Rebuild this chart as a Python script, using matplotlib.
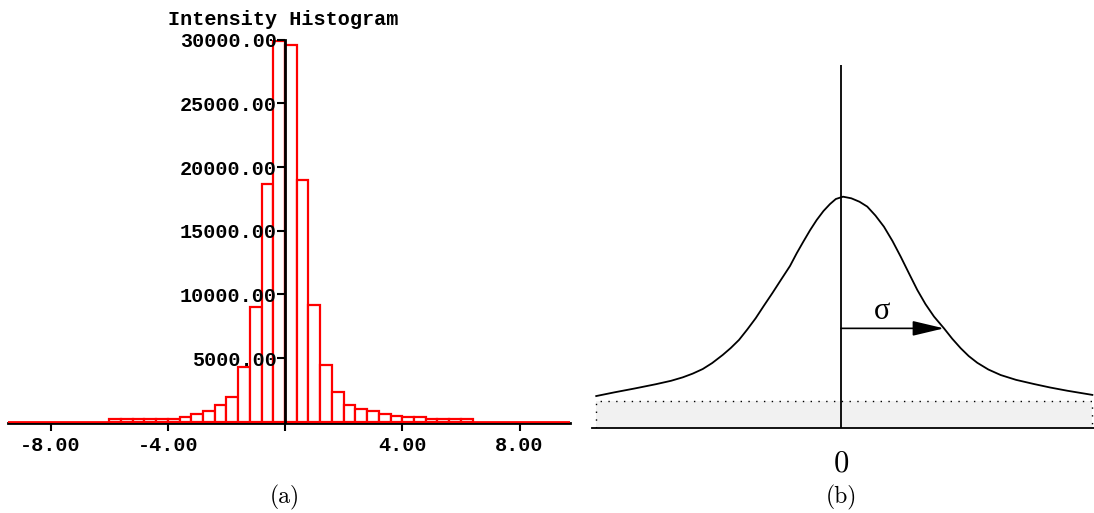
import numpy as np
import matplotlib.pyplot as plt

# (a) histogram: bins of width 0.4 starting at -6.0
bin_start = -6.0
bin_width = 0.4
counts = [200, 200, 200, 200, 200, 210, 400, 640, 810, 1320, 1960, 4320, 8980, 18650, 29900,
          29560, 18960, 9160, 4480, 2300, 1320, 980, 810, 600, 420, 400, 390, 190, 190, 190, 190]
xticks = [-8, -4, 0, 4, 8]
xtick_labels = ['-8.00', '-4.00', '', '4.00', '8.00']
yticks = [5000, 10000, 15000, 20000, 25000, 30000]
ytick_labels = ['5000.00', '10000.00', '15000.00', '20000.00', '25000.00', '30000.00']

# (b) sketch: x in units of sigma, y relative to the peak
curve_x = [-2.376, -2.2, -2.0, -1.8, -1.65, -1.536, -1.44, -1.342, -1.25, -1.148, -1.07,
           -0.990, -0.91, -0.828, -0.75, -0.667, -0.58, -0.495, -0.43, -0.366, -0.30,
           -0.236, -0.17, -0.107, -0.05, 0.02, 0.10, 0.18, 0.255, 0.335, 0.417, 0.50,
           0.580, 0.66, 0.741, 0.82, 0.903, 1.0, 1.08, 1.162, 1.24, 1.323, 1.43, 1.550,
           1.70, 1.874, 2.03, 2.197, 2.440]
curve_y = [0.137, 0.153, 0.170, 0.188, 0.203, 0.218, 0.234, 0.254, 0.280, 0.315, 0.345,
           0.380, 0.425, 0.474, 0.527, 0.582, 0.642, 0.700, 0.755, 0.805, 0.855,
           0.899, 0.938, 0.968, 0.990, 1.0, 0.993, 0.978, 0.957, 0.918, 0.870, 0.808,
           0.740, 0.668, 0.596, 0.535, 0.481, 0.430, 0.385, 0.344, 0.310, 0.281, 0.252, 0.228,
           0.207, 0.189, 0.174, 0.160, 0.142]
sigma = 1.0
arrow_y = 0.43
band_top = 0.117

W, H = 1094, 513
fig = plt.figure(figsize=(W / 100, H / 100), dpi=100)
mono = dict(family='Liberation Mono', weight='bold', size=14.5)

# ---- left panel
ax = fig.add_axes([8 / W, 1 - 423.1 / H, 562 / W, (423.1 - 39.7) / H])
edges = bin_start + bin_width * np.arange(len(counts))
ax.bar(edges, counts, width=bin_width, align='edge', color='white',
       edgecolor='red', linewidth=1.6, zorder=1)
ax.axhline(0, color='red', lw=2, zorder=3)
ax.set_xlim(-9.45, 9.72)
ax.set_ylim(-110, 30000)
ax.spines['top'].set_visible(False)
ax.spines['right'].set_visible(False)
ax.spines['left'].set_position(('data', 0))
ax.spines['left'].set_bounds(0, 30000)
ax.spines['left'].set_linewidth(2)
ax.spines['left'].set_zorder(4)
ax.spines['bottom'].set_linewidth(2)
ax.set_xticks(xticks, xtick_labels)
ax.set_yticks(yticks, ytick_labels)
ax.tick_params(axis='x', length=6, width=1.5, pad=3)
ax.tick_params(axis='y', length=6, width=1.5, pad=0)
for lbl in ax.get_xticklabels() + ax.get_yticklabels():
    lbl.set_fontfamily(mono['family'])
    lbl.set_fontweight(mono['weight'])
    lbl.set_fontsize(mono['size'])
fig.text(283 / W, 1 - 25 / H, 'Intensity Histogram', ha='center', va='baseline', **mono)

# ---- right panel
ax2 = fig.add_axes([592 / W, 1 - 427.7 / H, 502 / W, (427.7 - 65) / H])
ax2.axis('off')
ax2.set_xlim(-2.417, 2.456)
ax2.set_ylim(0, 1.570)
x0, x1 = curve_x[0], curve_x[-1]
ax2.fill_between([x0, x1], 0, band_top, color='#f1f1f1', lw=0)
ax2.plot([x0, x0, x1, x1], [0, band_top, band_top, 0], color='black', lw=1,
         linestyle=(0, (1, 4.6)))
ax2.axhline(0, color='black', lw=1.3, clip_on=False)
ax2.axvline(0, color='black', lw=1.3)
ax2.plot(curve_x, curve_y, color='black', lw=1.3)
ax2.annotate('', xy=(sigma, arrow_y), xytext=(0, arrow_y),
             arrowprops=dict(arrowstyle='-|>,head_length=0.97,head_width=0.23',
                             mutation_scale=20, color='black', lw=1.2,
                             shrinkA=0, shrinkB=0))
ax2.text(0.398, 0.502, 'σ', ha='center', va='center', family='Liberation Serif', size=22)

fig.text(841 / W, 1 - 464 / H, '0', ha='center', va='center', family='cmr10', size=22)
fig.text(285 / W, 1 - 497.5 / H, '(a)', ha='center', va='center', family='cmr10', size=17)
fig.text(841 / W, 1 - 497.5 / H, '(b)', ha='center', va='center', family='cmr10', size=17)

fig.savefig('out.png', dpi=100)
